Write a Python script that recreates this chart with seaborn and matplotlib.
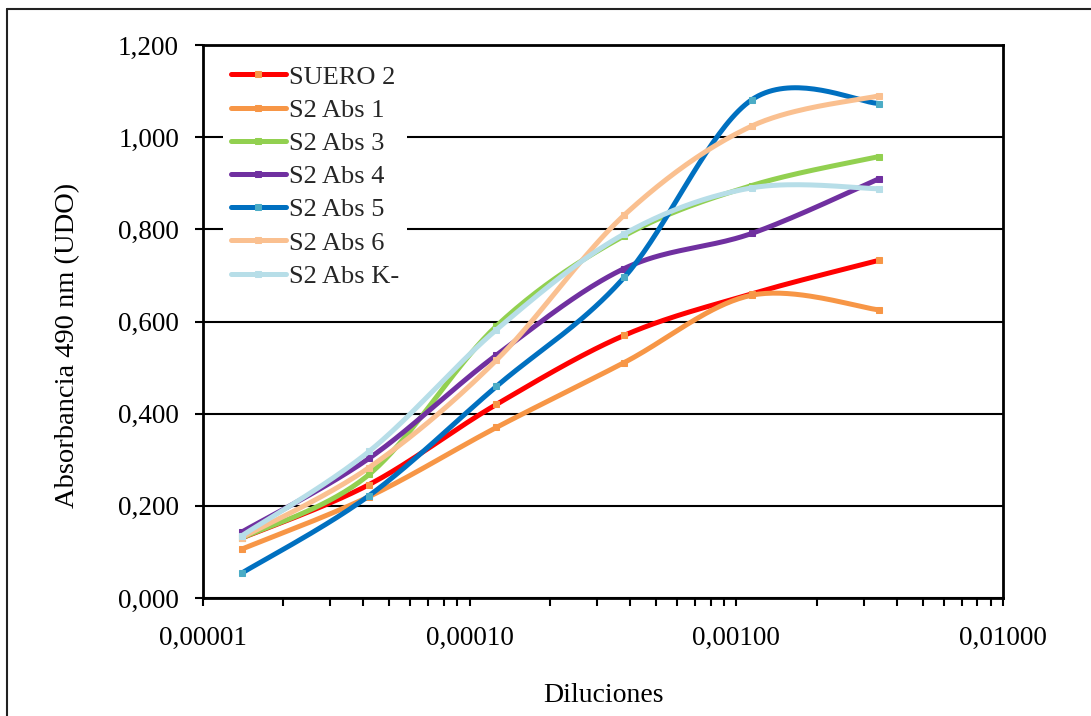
import numpy as np
import matplotlib
matplotlib.use("Agg")
import matplotlib.pyplot as plt
import seaborn as sns
from matplotlib.ticker import FixedLocator, LogLocator, FuncFormatter, NullFormatter
from matplotlib.lines import Line2D

# Dilution series (3-fold steps)
dilutions = [1.40e-5, 4.20e-5, 1.26e-4, 3.80e-4, 1.14e-3, 3.43e-3]

series_names = ["SUERO 2", "S2 Abs 1", "S2 Abs 3", "S2 Abs 4",
                "S2 Abs 5", "S2 Abs 6", "S2 Abs K-"]

suero_2 = [0.130, 0.246, 0.420, 0.570, 0.660, 0.733]
s2_abs_1 = [0.106, 0.220, 0.370, 0.511, 0.657, 0.625]
s2_abs_3 = [0.130, 0.268, 0.590, 0.786, 0.895, 0.958]
s2_abs_4 = [0.143, 0.303, 0.527, 0.715, 0.791, 0.910]
s2_abs_5 = [0.054, 0.222, 0.459, 0.696, 1.081, 1.073]
s2_abs_6 = [0.131, 0.283, 0.516, 0.831, 1.024, 1.090]
s2_abs_k = [0.135, 0.318, 0.582, 0.790, 0.890, 0.888]

series_values = [suero_2, s2_abs_1, s2_abs_3, s2_abs_4, s2_abs_5, s2_abs_6, s2_abs_k]

line_colors = ["#FF0000", "#F79646", "#92D050", "#7030A0",
               "#0070C0", "#FAC090", "#B7DEE8"]
marker_colors = ["#F79646", "#F79646", "#92D050", "#7030A0",
                 "#4BACC6", "#FAC090", "#B7DEE8"]

x_ticks = [1e-5, 1e-4, 1e-3, 1e-2]
y_ticks = [0.0, 0.2, 0.4, 0.6, 0.8, 1.0, 1.2]


def smooth_curve(xs, ys, n=40):
    """Bezier smoothing of a polyline in (log10 x, y) space."""
    P = np.column_stack([np.log10(xs), np.asarray(ys, dtype=float)])
    Pe = np.vstack([P[0], P, P[-1]])
    t = np.linspace(0, 1, n)[:, None]
    parts = []
    for i in range(len(P) - 1):
        p0, p3 = P[i], P[i + 1]
        c1 = p0 + (Pe[i + 2] - Pe[i]) / 6.0
        c2 = p3 - (Pe[i + 3] - Pe[i + 1]) / 6.0
        seg = ((1 - t) ** 3) * p0 + 3 * ((1 - t) ** 2) * t * c1 \
            + 3 * (1 - t) * (t ** 2) * c2 + (t ** 3) * p3
        parts.append(seg if i == 0 else seg[1:])
    pts = np.vstack(parts)
    marks = [i * (n - 1) for i in range(len(P))]
    return 10 ** pts[:, 0], pts[:, 1], marks


sns.set_theme(style="white")
plt.rcParams["font.family"] = ["Liberation Serif", "DejaVu Serif"]

fig = plt.figure(figsize=(10.91, 7.16), dpi=100)
ax = fig.add_axes([202.7 / 1091, 118 / 716, 800.6 / 1091, 553 / 716])

for name, vals, lc, mc in zip(series_names, series_values, line_colors, marker_colors):
    sx, sy, marks = smooth_curve(dilutions, vals)
    sns.lineplot(x=sx, y=sy, ax=ax, sort=False, estimator=None,
                 color=lc, linewidth=3.6, label=name,
                 solid_capstyle="round", marker="s", markersize=3.8,
                 markerfacecolor=mc, markeredgecolor=mc, markevery=marks)

ax.set_xscale("log")
ax.set_xlim(1e-5, 1e-2)
ax.set_ylim(0, 1.2)

ax.xaxis.set_major_locator(FixedLocator(x_ticks))
ax.xaxis.set_major_formatter(FuncFormatter(lambda v, p: f"{v:.5f}".replace(".", ",")))
ax.xaxis.set_minor_locator(LogLocator(base=10, subs=np.arange(2, 10)))
ax.xaxis.set_minor_formatter(NullFormatter())
ax.yaxis.set_major_locator(FixedLocator(y_ticks))
ax.yaxis.set_major_formatter(FuncFormatter(lambda v, p: f"{v:.3f}".replace(".", ",")))

ax.yaxis.grid(True, color="black", linewidth=1.5)
ax.xaxis.grid(False)
ax.set_axisbelow(True)

for sp in ax.spines.values():
    sp.set_visible(True)
    sp.set_color("black")
    sp.set_linewidth(2)

ax.tick_params(axis="both", which="both", direction="out", color="black",
               width=1.5, length=6, labelsize=19.5, labelcolor="black")
ax.tick_params(axis="x", which="major", pad=14, bottom=True)
ax.tick_params(axis="x", which="minor", bottom=True)
ax.tick_params(axis="y", which="major", pad=11, left=True)

ax.set_xlabel("Diluciones", fontsize=20, color="black", labelpad=23)
ax.set_ylabel("Absorbancia 490 nm (UDO)", fontsize=20.5, color="black")
ax.yaxis.set_label_coords(-0.153, 0.4575)

leg = ax.legend(loc="upper left", bbox_to_anchor=(0.025, 0.978), borderaxespad=0,
                fontsize=19, frameon=True, facecolor="white", edgecolor="none",
                framealpha=1, fancybox=False, borderpad=0.3, handlelength=2.1,
                handletextpad=0.1, labelspacing=0.37)
for h in leg.get_lines():
    h.set_linewidth(3.6)

# Outer chart border (left and top edges)
fig.add_artist(Line2D([7 / 1091, 7 / 1091], [0, 1 - 9 / 716],
                      transform=fig.transFigure, color="#222222", linewidth=1.5))
fig.add_artist(Line2D([7 / 1091, 1], [1 - 9 / 716, 1 - 9 / 716],
                      transform=fig.transFigure, color="#222222", linewidth=1.5))

fig.savefig("out.png", dpi=100)
